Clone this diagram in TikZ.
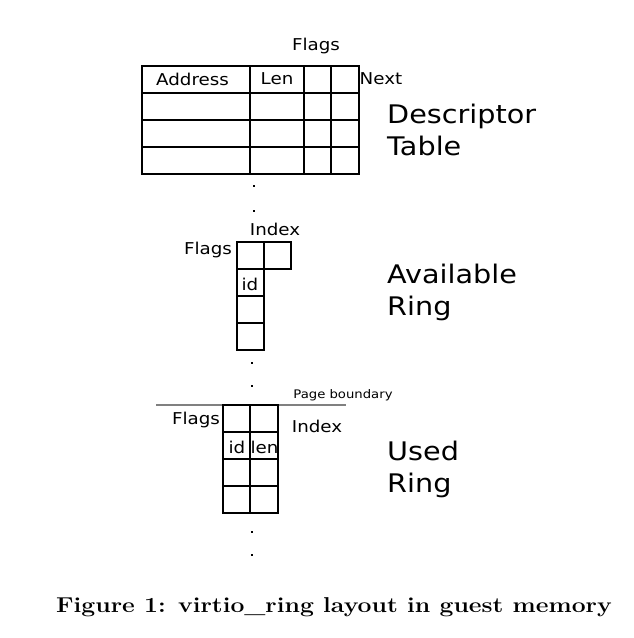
\documentclass[tikz,border=0pt]{standalone}
\usepackage{fontspec}
\newfontfamily\dejavu{DejaVu Sans}
\newcommand\wide[1]{\scalebox{1.12}[1]{#1}}
\tikzset{
  lbl/.style={inner sep=0pt, font=\dejavu\fontsize{16.3}{20}\selectfont},
  big/.style={inner sep=0pt, anchor=base west, font=\dejavu\fontsize{25.6}{32}\selectfont},
  small/.style={inner sep=0pt, font=\dejavu\fontsize{11.8}{14}\selectfont},
  cell/.style={line width=1.2pt},
  dot/.style={fill, inner sep=0pt, minimum size=2.2pt}
}
\begin{document}
\begin{tikzpicture}[x=1pt,y=-1pt]
  \useasboundingbox (0,0) rectangle (634,638);
  % descriptor table
  \draw[cell] (142,66) rectangle (359,174);
  \foreach \y in {93,120,147} \draw[cell] (142,\y) -- (359,\y);
  \foreach \x in {250,304,331} \draw[cell] (\x,66) -- (\x,174);
  \node[lbl] (dflags) at (316,46) {\wide{Flags}};
  \node[lbl] (daddr) at (192.5,79) {\wide{Address}};
  \node[lbl] (dlen) at (277,79) {\wide{Len}};
  \node[lbl] (dnext) at (381,79) {\wide{Next}};
  \node[big] (dname) at (387,123) {\wide{Descriptor}};
  \node[big] (dname2) at (387,155) {\wide{Table}};
  \node[dot] (d1) at (254,186) {};
  \node[dot] (d2) at (254,211) {};
  % available ring
  \draw[cell] (237,242) rectangle (264,350);
  \draw[cell] (264,242) rectangle (291,269);
  \foreach \y in {269,296,323} \draw[cell] (237,\y) -- (264,\y);
  \node[lbl] (aindex) at (275,229) {\wide{Index}};
  \node[lbl] (aflags) at (208,250) {\wide{Flags}};
  \node[lbl] (aid) at (250,284) {\wide{id}};
  \node[big] (aname) at (387,283) {\wide{Available}};
  \node[big] (aname2) at (387,315) {\wide{Ring}};
  \node[dot] (a1) at (252,363) {};
  \node[dot] (a2) at (252,386) {};
  % used ring
  \draw[gray, line width=1.2pt] (156,405) -- (346,405);
  \node[small] (upage) at (343,395) {\wide{Page boundary}};
  \draw[cell] (223,405) rectangle (278,513);
  \draw[cell] (250,405) -- (250,513);
  \foreach \y in {432,459,486} \draw[cell] (223,\y) -- (278,\y);
  \node[lbl] (uflags) at (196,420) {\wide{Flags}};
  \node[lbl] (uindex) at (317,426) {\wide{Index}};
  \node[lbl] (uid) at (237,447) {\wide{id}};
  \node[lbl] (ulen) at (264.5,447) {\wide{len}};
  \node[big] (uname) at (387,460) {\wide{Used}};
  \node[big] (uname2) at (387,492) {\wide{Ring}};
  \node[dot] (u1) at (252,532) {};
  \node[dot] (u2) at (252,555) {};
  % caption
  \node[inner sep=0pt, anchor=base, font=\bfseries\fontsize{21.5}{26}\selectfont] (cap) at (334,612) {\scalebox{1.15}[1]{Figure 1: virtio\_ring layout in guest memory}};
\end{tikzpicture}
\end{document}
